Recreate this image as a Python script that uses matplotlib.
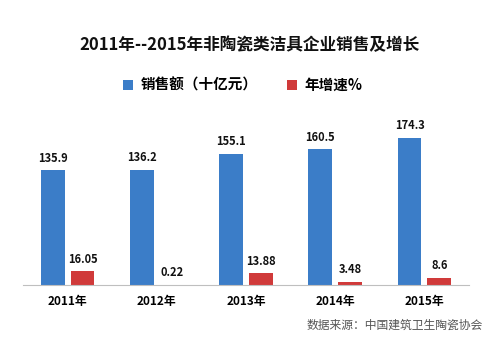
import matplotlib.pyplot as plt
import numpy as np

plt.rcParams['font.family'] = ['Noto Sans CJK SC', 'DejaVu Sans']

years = ['2011年', '2012年', '2013年', '2014年', '2015年']
sales = [135.9, 136.2, 155.1, 160.5, 174.3]
growth = [16.05, 0.22, 13.88, 3.48, 8.6]
growth_labels = ['16.05', '0.22', '13.88', '3.48', '8.6']

blue = '#3b7dc8'
red = '#d03a3a'

fig = plt.figure(figsize=(5, 3.42), dpi=100)
ax = fig.add_axes([0.046, 0.1667, 0.892, 0.494])

x = np.arange(len(years))
w = 0.265
off = 0.167
b1 = ax.bar(x - off, sales, w, color=blue, label='销售额（十亿元）')
b2 = ax.bar(x + off, growth, w, color=red, label='年增速%')

for rect, v in zip(b1, sales):
    ax.annotate(f'{v}', (rect.get_x() + rect.get_width() / 2, v), xytext=(0, 4),
                textcoords='offset points', ha='center', va='bottom',
                fontsize=8, fontweight='bold', color='#111111')
for rect, v, s in zip(b2, growth, growth_labels):
    ax.annotate(s, (rect.get_x() + rect.get_width() / 2, v), xytext=(0, 4),
                textcoords='offset points', ha='center', va='bottom',
                fontsize=8, fontweight='bold', color='#111111')

ax.set_xlim(-0.5, len(years) - 0.5)
ax.set_ylim(0, 200)
ax.set_xticks(x)
ax.set_xticklabels(years, fontsize=8.5, fontweight='bold')
ax.tick_params(axis='x', length=0, pad=7)
ax.set_yticks([])
for sp in ['top', 'right', 'left']:
    ax.spines[sp].set_visible(False)
ax.spines['bottom'].set_color('#bfbfbf')
ax.spines['bottom'].set_linewidth(0.8)

fig.text(0.5, 0.868, '2011年--2015年非陶瓷类洁具企业销售及增长', ha='center', va='center',
         fontsize=12, fontweight='bold', color='#111111')

fig.legend(loc='center', bbox_to_anchor=(0.485, 0.752), ncol=2, frameon=False,
           handlelength=0.7, handleheight=0.7, columnspacing=2.0,
           handletextpad=0.5, prop={'weight': 'bold', 'size': 10.5})

fig.text(0.966, 0.05, '数据来源：中国建筑卫生陶瓷协会', ha='right', va='center',
         fontsize=8.5, color='#555555')

fig.savefig('out.png', dpi=100)
